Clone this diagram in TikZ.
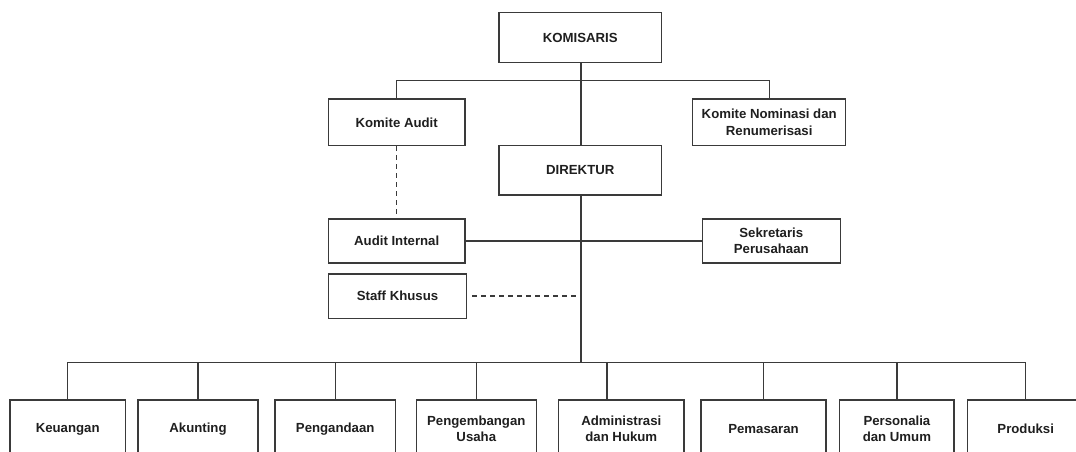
\documentclass[tikz,border=0pt]{standalone}
\usepackage{fontspec}
\setmainfont{Liberation Sans}
\begin{document}
\begin{tikzpicture}[x=1pt,y=-1pt,
  box/.style={draw=linegray, line width=1.2pt, rectangle, inner sep=2pt, align=center,
    font=\bfseries\fontsize{13.2}{16.5}\selectfont, text=black!88},
  conn/.style={draw=linegray, line width=1.2pt},
  dconn/.style={draw=linegray, line width=1.2pt, dash pattern=on 5pt off 4pt}]
\definecolor{linegray}{HTML}{3A3A3A}
\useasboundingbox (0,0) rectangle (1076,451);
\clip (0,0) rectangle (1076,451);
\fill[white] (0,0) rectangle (1076,451);
% top level
\node[box, minimum width=162.5pt, minimum height=50pt] (kom) at (580.3,37.7) {KOMISARIS};
\node[box, minimum width=136.7pt, minimum height=46.7pt] (ka) at (396.7,122.3) {Komite Audit};
\node[box, minimum width=153pt, minimum height=46.7pt] (kn) at (769.2,122.3) {Komite Nominasi dan\\Renumerisasi};
\node[box, minimum width=162.5pt, minimum height=49.3pt] (dir) at (580.3,170.3) {DIREKTUR};
\node[box, minimum width=136.7pt, minimum height=44pt] (ai) at (396.7,241) {Audit Internal};
\node[box, minimum width=138pt, minimum height=44pt] (sp) at (771.3,241) {Sekretaris\\Perusahaan};
\node[box, minimum width=138.4pt, minimum height=44.3pt] (sk) at (397.5,296.2) {Staff Khusus};
% bottom level
\node[box, minimum width=115.3pt, minimum height=58pt] (b1) at (67.7,429) {Keuangan};
\node[box, minimum width=120pt, minimum height=58pt] (b2) at (198,429) {Akunting};
\node[box, minimum width=120.3pt, minimum height=58pt] (b3) at (335.2,429) {Pengandaan};
\node[box, minimum width=120pt, minimum height=58pt] (b4) at (476.3,429) {Pengembangan\\Usaha};
\node[box, minimum width=125.3pt, minimum height=58pt] (b5) at (621.3,429) {Administrasi\\dan Hukum};
\node[box, minimum width=125pt, minimum height=58pt] (b6) at (763.5,429) {Pemasaran};
\node[box, minimum width=114.3pt, minimum height=58pt] (b7) at (896.9,429) {Personalia\\dan Umum};
\node[box, minimum width=116pt, minimum height=58pt] (b8) at (1025.7,429) {Produksi};
% coordinates
\coordinate (trunk) at (581,0);
\coordinate (br) at (0,80.5);
\coordinate (bus) at (0,362.3);
\coordinate (dsh) at (581,296);
\coordinate (s5) at (607,0);
% connectors
\draw[conn] (trunk |- kom.south) -- (trunk |- dir.north);
\draw[conn] (ka.north) -- (ka.north |- br) -- (kn.north |- br) -- (kn.north);
\draw[conn] (trunk |- dir.south) -- (trunk |- bus);
\draw[conn] (ai.east) -- (sp.west);
\draw[dconn] (ka.south) -- (ai.north);
\draw[dconn] ([xshift=5pt]sk.east |- dsh) -- (dsh);
\draw[conn] (b1.north |- bus) -- (b8.north |- bus);
\foreach \n in {b1,b2,b3,b4,b6,b7,b8}{
  \draw[conn] (\n.north |- bus) -- (\n.north);
}
\draw[conn] (s5 |- bus) -- (s5 |- b5.north);
\end{tikzpicture}
\end{document}
